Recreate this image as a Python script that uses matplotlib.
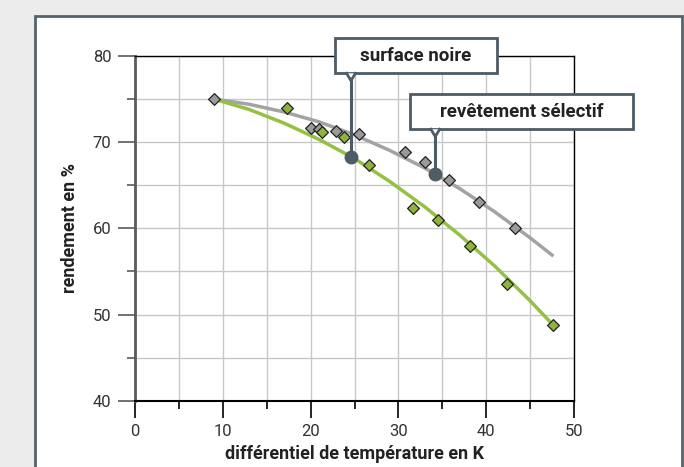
import matplotlib.pyplot as plt
from matplotlib.patches import Rectangle, Polygon
from matplotlib.ticker import MultipleLocator

# mesures (points)
x_noire = [17.3, 21.3, 23.8, 26.7, 31.7, 34.5, 38.2, 42.4, 47.6]
y_noire = [74.0, 71.2, 70.6, 67.4, 62.4, 61.0, 58.0, 53.5, 48.8]
x_select = [9.0, 20.0, 21.0, 22.9, 25.5, 30.8, 33.0, 35.8, 39.2, 43.3]
y_select = [75.0, 71.7, 71.5, 71.3, 70.9, 68.9, 67.7, 65.6, 63.0, 60.0]

# courbes de tendance
xc_noire = [9, 13, 17, 21, 25, 29, 33, 37, 41, 45, 47.6]
yc_noire = [75.0, 73.8, 72.2, 70.3, 68.1, 65.45, 62.5, 59.2, 55.6, 51.6, 48.8]
xc_select = [9, 13, 17, 21, 25, 29, 33, 37, 41, 45, 47.5]
yc_select = [75.0, 74.4, 73.5, 72.35, 70.85, 69.05, 67.0, 64.6, 61.9, 58.9, 56.9]

# points des etiquettes
lab_noire = ("surface noire", 24.6, 68.3)
lab_select = ("revêtement sélectif", 34.2, 66.3)

GREEN = "#94c043"
GREEN_M = "#8db33a"
GRAY = "#a3a3a3"
GRAY_M = "#9a9a9a"
DARK = "#4e5c66"

plt.rcParams['font.family'] = ['Roboto', 'DejaVu Sans']

fig = plt.figure(figsize=(6.84, 4.67), dpi=100, facecolor="#ececec")
W, H = 684, 467
fig.patches.append(Rectangle((35 / W, -0.05), (682 - 35) / W, 1.05 - 16 / H,
                             transform=fig.transFigure, facecolor="white",
                             edgecolor="#56626b", linewidth=2, zorder=-10))

ax = fig.add_axes([135 / W, 1 - 400.7 / H, (574 - 135) / W, (400.7 - 56) / H])
ax.set_facecolor("none")
ax.set_xlim(0, 50)
ax.set_ylim(40, 80)
ax.xaxis.set_major_locator(MultipleLocator(10))
ax.xaxis.set_minor_locator(MultipleLocator(5))
ax.yaxis.set_major_locator(MultipleLocator(10))
ax.yaxis.set_minor_locator(MultipleLocator(5))
ax.grid(True, which="both", color="#c8c8c8", linewidth=1)
ax.set_axisbelow(True)

ax.tick_params(which="major", direction="out", length=12, width=1.2,
               labelsize=12, labelcolor="#333333", pad=5)
ax.tick_params(which="minor", direction="out", length=6, width=1.2)
ax.tick_params(axis="y", which="both", color="#5a5a5a")
ax.tick_params(axis="x", which="both", color="black")
ax.spines['left'].set_color("#5a5a5a")
ax.spines['left'].set_linewidth(2)
ax.spines['bottom'].set_color("black")
ax.spines['bottom'].set_linewidth(1.5)
for s in ('top', 'right'):
    ax.spines[s].set_color("black")
    ax.spines[s].set_linewidth(1)

ax.plot(xc_select, yc_select, color=GRAY, linewidth=2.5, zorder=3)
ax.plot(xc_noire, yc_noire, color=GREEN, linewidth=2.5, zorder=3)
ax.scatter(x_select, y_select, marker="D", s=36, facecolor=GRAY_M,
           edgecolor="#222222", linewidth=0.9, zorder=4)
ax.scatter(x_noire, y_noire, marker="D", s=36, facecolor=GREEN_M,
           edgecolor="#222222", linewidth=0.9, zorder=4)

ax.set_xlabel("différentiel de température en K", fontsize=13,
              fontweight="bold", color="#222222", labelpad=4)
ax.set_ylabel("rendement en %", fontsize=13, fontweight="bold",
              color="#222222", labelpad=10)


def callout(label, x, y, box, fs=13.5):
    x0, x1, yb, yt = box
    ax.add_patch(Rectangle((x0, yb), x1 - x0, yt - yb, facecolor="white",
                           edgecolor=DARK, linewidth=2, zorder=8, clip_on=False))
    ax.text((x0 + x1) / 2, (yb + yt) / 2, label, ha="center", va="center",
            fontsize=fs, fontweight="bold", color="#222222", zorder=9,
            clip_on=False)
    dx, dy = 0.5, 0.85
    ax.add_patch(Polygon([(x - dx, yb), (x, yb - dy), (x + dx, yb)],
                         closed=True, facecolor="white", edgecolor="none",
                         zorder=9, clip_on=False))
    ax.plot([x - dx, x, x + dx], [yb, yb - dy, yb], color=DARK,
            linewidth=2, zorder=10, clip_on=False, solid_joinstyle="miter")
    ax.plot([x, x], [yb - dy, y], color=DARK, linewidth=2.2, zorder=10,
            clip_on=False)
    ax.plot([x], [y], marker="o", markersize=9, color=DARK, zorder=11,
            clip_on=False)


callout(lab_noire[0], lab_noire[1], lab_noire[2], (22.76, 41.18, 77.99, 82.05))
callout(lab_select[0], lab_select[1], lab_select[2], (31.32, 56.72, 71.5, 75.59))

fig.savefig("out.png", dpi=100, facecolor=fig.get_facecolor())
